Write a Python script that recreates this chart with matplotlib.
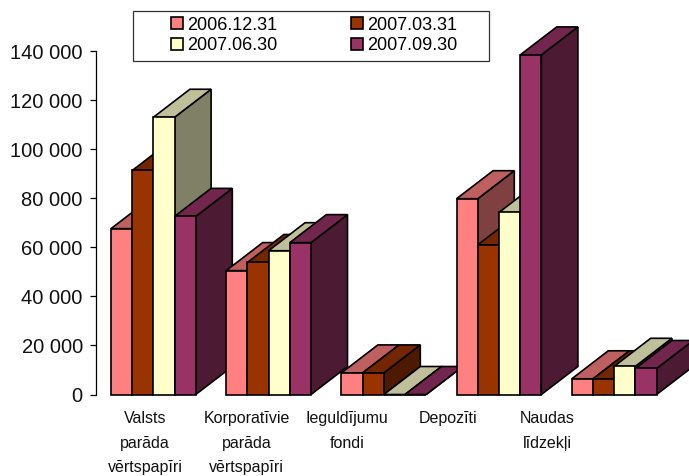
import matplotlib
matplotlib.use("Agg")
import matplotlib.pyplot as plt
from matplotlib.patches import Polygon, Rectangle

plt.rcParams['font.family'] = ['Liberation Sans', 'DejaVu Sans']

categories = ["Valsts\nparāda\nvērtspapīri", "Korporatīvie\nparāda\nvērtspapīri",
              "Ieguldījumu\nfondi", "Depozīti", "Naudas\nlīdzekļi"]
series_names = ["2006.12.31", "2007.03.31", "2007.06.30", "2007.09.30"]
s1 = [67600, 50500, 8800, 79800, 6400]
s2 = [91300, 53800, 8800, 61000, 6400]
s3 = [113000, 58600, 0, 74200, 11500]
s4 = [72600, 61900, 0, 138400, 10600]
series = [s1, s2, s3, s4]
y_ticks = [0, 20000, 40000, 60000, 80000, 100000, 120000, 140000]

front = ["#FF8080", "#993300", "#FFFFCC", "#993366"]
top = ["#BF6060", "#732600", "#BFBF99", "#73264D"]
side = ["#804040", "#4D1A00", "#808066", "#4D1A33"]

W, H = 689, 476
fig = plt.figure(figsize=(W / 100, H / 100), dpi=100)
ax = fig.add_axes([96 / W, (H - 394.5) / H, (W - 96) / W, 343.5 / H])

pitch = 115.2
x0 = 153.4
ax.set_xlim((96 - x0) / pitch, (W - x0) / pitch)
ax.set_ylim(0, 140000)

bw = 21.2 / pitch
dx = 36.5 / pitch
dy = 28.0 * 140000 / 343.5
LW = 1.2
handles = []
for g in range(len(categories)):
    for k in range(4):
        v = series[k][g]
        left = g + (k - 2) * bw
        z = 10 + g * 10 + k * 3
        kw = dict(edgecolor="black", linewidth=LW, clip_on=False, joinstyle="miter")
        ax.add_patch(Polygon([(left + bw, 0), (left + bw + dx, dy), (left + bw + dx, v + dy), (left + bw, v)],
                             closed=True, facecolor=side[k], zorder=z, **kw))
        ax.add_patch(Polygon([(left, v), (left + dx, v + dy), (left + bw + dx, v + dy), (left + bw, v)],
                             closed=True, facecolor=top[k], zorder=z + 1, **kw))
        b = ax.bar(left, v, width=bw, align="edge", color=front[k], zorder=z + 2, **kw)
        if g == 0:
            handles.append(b[0])

for s in ("top", "right", "bottom"):
    ax.spines[s].set_visible(False)
ax.spines["left"].set_linewidth(0.9)
ax.patch.set_alpha(0)

ax.set_yticks(y_ticks)
ax.set_yticklabels([f"{t:,}".replace(",", " ") for t in y_ticks], fontsize=14.5, color="#111111")
ax.tick_params(axis="y", length=4.5, width=0.9, pad=5)

label_px = [145, 246.7, 347, 448, 547]
ax.set_xticks([(p - x0) / pitch for p in label_px])
ax.set_xticklabels(categories, fontsize=11.5, linespacing=1.8, va="top", color="#111111")
ax.tick_params(axis="x", length=0, pad=12)

fig.add_artist(Rectangle((133 / W, (H - 61) / H), 356 / W, 50 / H, transform=fig.transFigure,
                         facecolor="white", edgecolor="#333333", linewidth=0.9, zorder=50))
leg = fig.legend([handles[0], handles[2], handles[1], handles[3]],
                 [series_names[0], series_names[2], series_names[1], series_names[3]],
                 ncols=2, loc="upper left", bbox_to_anchor=(171 / W, (H - 16.5) / H),
                 bbox_transform=fig.transFigure, frameon=False, fontsize=13,
                 handlelength=0.69, handleheight=0.69, handletextpad=0.22,
                 columnspacing=4.05, labelspacing=0.2, borderpad=0, borderaxespad=0)
leg.set_zorder(60)
fig.savefig("out.png", dpi=100)
